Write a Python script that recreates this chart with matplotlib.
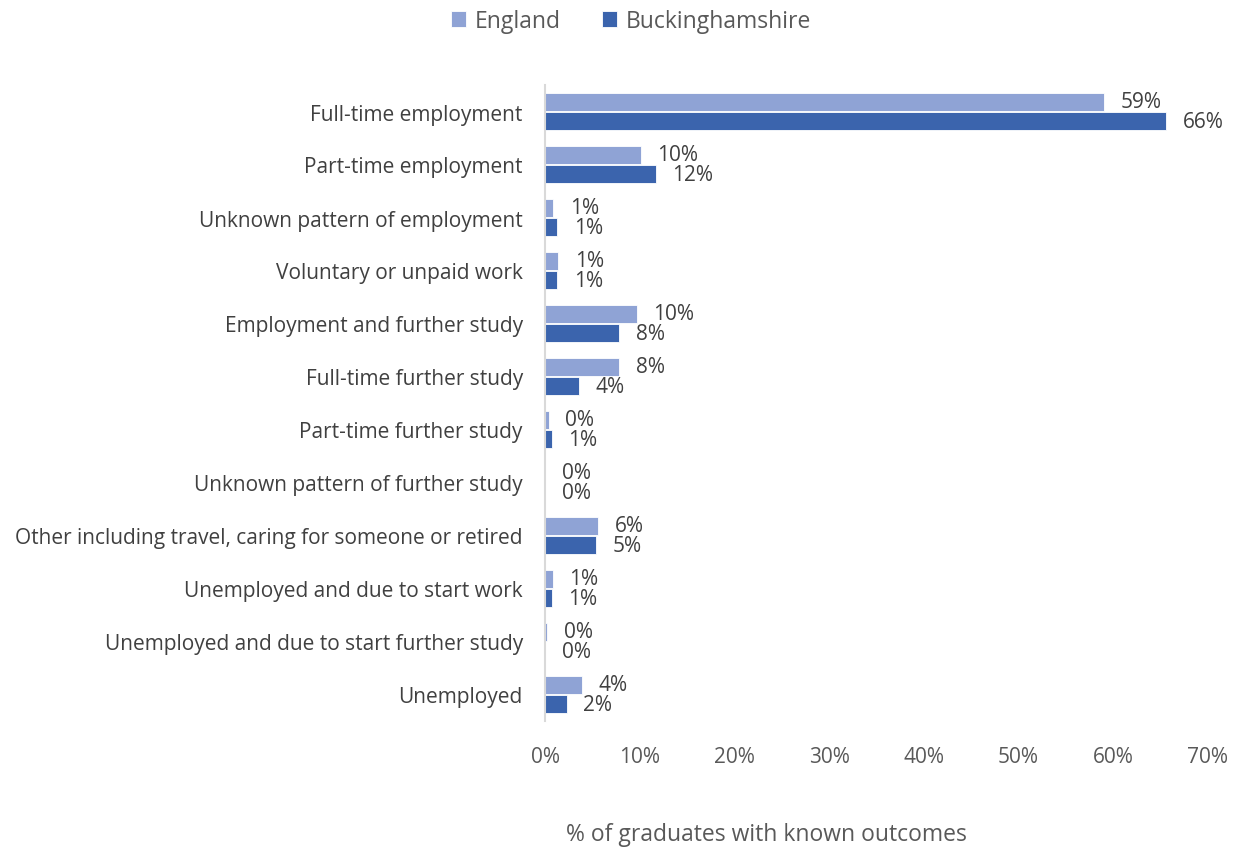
import matplotlib
matplotlib.use("Agg")
import matplotlib.pyplot as plt
import numpy as np

categories = [
    "Full-time employment",
    "Part-time employment",
    "Unknown pattern of employment",
    "Voluntary or unpaid work",
    "Employment and further study",
    "Full-time further study",
    "Part-time further study",
    "Unknown pattern of further study",
    "Other including travel, caring for someone or retired",
    "Unemployed and due to start work",
    "Unemployed and due to start further study",
    "Unemployed",
]
england = [59.0, 10.1, 0.85, 1.4, 9.7, 7.8, 0.4, 0.0, 5.6, 0.8, 0.2, 3.9]
buckinghamshire = [65.6, 11.7, 1.3, 1.3, 7.8, 3.6, 0.7, 0.0, 5.4, 0.7, 0.0, 2.3]
xticks = [0, 10, 20, 30, 40, 50, 60, 70]

plt.rcParams['font.family'] = ['Open Sans', 'DejaVu Sans']

fig = plt.figure(figsize=(12.41, 8.53), dpi=100)
ax = fig.add_axes([545 / 1241, 1 - 722 / 853, (1208 - 545) / 1241, (722 - 86) / 853])

c_eng = "#8FA3D5"
c_bucks = "#3B64AD"
text_c = "#404040"
tick_c = "#595959"

y = np.arange(len(categories))
h = 0.345
b1 = ax.barh(y - h / 2 - 0.01, england, height=h, color=c_eng, edgecolor="white", linewidth=0.6, label="England")
b2 = ax.barh(y + h / 2 + 0.01, buckinghamshire, height=h, color=c_bucks, edgecolor="white", linewidth=0.6, label="Buckinghamshire")

for bars, vals in ((b1, england), (b2, buckinghamshire)):
    for bar, v in zip(bars, vals):
        ax.annotate(f"{v:.0f}%", xy=(v, bar.get_y() + bar.get_height() / 2),
                    xytext=(12, 0), textcoords="offset points",
                    ha="left", va="center", fontsize=15, color=text_c)

ax.set_ylim(len(categories) - 0.5, -0.5)
ax.set_xlim(0, 70)
ax.set_yticks(y)
ax.set_yticklabels(categories, fontsize=15, color=text_c)
ax.set_xticks(xticks)
ax.set_xticklabels([f"{t}%" for t in xticks], fontsize=15, color=tick_c)
ax.tick_params(axis="both", length=0)
ax.tick_params(axis="y", pad=16)
ax.tick_params(axis="x", pad=18)

for s in ("top", "right", "bottom"):
    ax.spines[s].set_visible(False)
ax.spines["left"].set_color("#D9D9D9")
ax.spines["left"].set_linewidth(1.5)

fig.legend(handles=[b1, b2], labels=["England", "Buckinghamshire"], loc="center",
           bbox_to_anchor=(631 / 1241, 1 - 22 / 853), ncol=2, frameon=False,
           fontsize=16.5, labelcolor=tick_c, handlelength=0.65, handleheight=0.65,
           handletextpad=0.4, columnspacing=1.8)

fig.text(766 / 1241, 1 - 835 / 853, "% of graduates with known outcomes",
         ha="center", va="center", fontsize=16.5, color=tick_c)

fig.savefig("out.png", dpi=100, facecolor="white")
